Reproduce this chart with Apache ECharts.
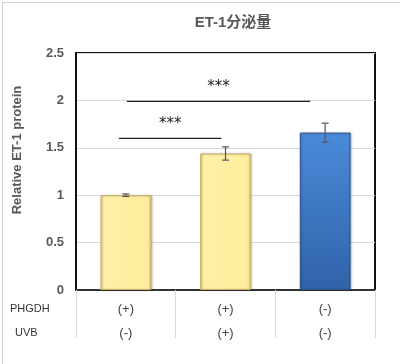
<!DOCTYPE html>
<html><head><meta charset="utf-8">
<script src="https://cdn.jsdelivr.net/npm/echarts@6/dist/echarts.min.js"></script>
<style>html,body{margin:0;padding:0;background:#fff}#c{width:400px;height:364px}</style>
</head><body><div id="c"></div>
<script>
const categories = ['A', 'B', 'C'];
const phgdh = ['(+)', '(+)', '(-)'];
const uvb = ['(-)', '(+)', '(-)'];
const values = [1.0, 1.44, 1.66];
const errors = [0.013, 0.07, 0.1];
const yTicks = [0, 0.5, 1, 1.5, 2, 2.5];
// significance brackets: [fromCategory, fromOffset, toCategory, toOffset, yValue, label]
const brackets = [
  [0, -0.07, 1, -0.04, 1.6, '***'],
  [0, 0.01, 2, -0.15, 1.99, '***']
];

const chart = echarts.init(document.getElementById('c'));
const yellow = {type:'linear',x:0,y:0,x2:1,y2:0,colorStops:[{offset:0,color:'#f3dc8c'},{offset:0.08,color:'#fff0a6'},{offset:0.92,color:'#ffee9e'},{offset:1,color:'#e6cc7e'}]};
const blue = {type:'linear',x:0,y:0,x2:0,y2:1,colorStops:[{offset:0,color:'#4a8ad9'},{offset:1,color:'#3063a9'}]};
const colors = [yellow, yellow, blue];
const borders = ['#cbb26a', '#cbb26a', '#2a5590'];

chart.setOption({
  animation: false,
  title: {text: 'ET-1分泌量', left: 228, top: 10, textAlign: 'center',
    textStyle: {fontSize: 15, fontWeight: 'bold', color: '#595959', fontFamily: 'Liberation Sans, Noto Sans CJK SC'}},
  grid: {left: 76, right: 25, top: 53, bottom: 74, show: true, borderColor: '#111', borderWidth: 2},
  xAxis: {
    type: 'category', data: categories,
    axisLine: {lineStyle: {color: '#333', width: 2}},
    axisTick: {show: true, length: 48, lineStyle: {color: '#d9d9d9'}},
    axisLabel: {
      margin: 7,
      formatter: (v, i) => phgdh[i] + '\n' + uvb[i],
      fontSize: 13, lineHeight: 24, color: '#404040', fontFamily: 'Liberation Sans'
    }
  },
  yAxis: {
    type: 'value', min: 0, max: 2.5, interval: 0.5,
    axisLine: {show: true, lineStyle: {color: '#111', width: 2}},
    axisTick: {show: false},
    axisLabel: {fontSize: 13, fontWeight: 'bold', color: '#595959', margin: 12, fontFamily: 'Liberation Sans',
      formatter: v => String(v)},
    splitLine: {lineStyle: {color: '#d9d9d9'}}
  },
  graphic: [
    {type: 'rect', left: 0, top: 0, shape: {width: 399, height: 363}, style: {fill: 'none', stroke: '#d0d0d0', lineWidth: 1}, x: 0.5, y: 0.5},
    {type: 'text', x: 17, y: 150, rotation: Math.PI / 2,
      style: {text: 'Relative ET-1 protein', fontSize: 13, fontWeight: 'bold', fill: '#595959', fontFamily: 'Liberation Sans',
        textAlign: 'center', textVerticalAlign: 'middle'}},
    {type: 'text', left: 10, top: 303, style: {text: 'PHGDH', fontSize: 11, fill: '#333', fontFamily: 'Liberation Sans'}},
    {type: 'text', left: 15, top: 327, style: {text: 'UVB', fontSize: 11, fill: '#333', fontFamily: 'Liberation Sans'}}
  ],
  series: [
    {
      type: 'bar', barWidth: '51%',
      data: values.map((v, i) => ({value: v, itemStyle: {color: colors[i], borderColor: borders[i], borderWidth: 1,
        shadowColor: 'rgba(0,0,0,0.25)', shadowBlur: 2, shadowOffsetX: 1, shadowOffsetY: 0}})),
      z: 2
    },
    {
      type: 'custom', z: 5,
      data: values.map((v, i) => [i, v - errors[i], v + errors[i]]),
      renderItem: (params, api) => {
        const lo = api.coord([api.value(0), api.value(1)]);
        const hi = api.coord([api.value(0), api.value(2)]);
        const w = 3.5;
        const st = {stroke: '#555', lineWidth: 1.2};
        return {type: 'group', children: [
          {type: 'line', shape: {x1: hi[0], y1: hi[1], x2: lo[0], y2: lo[1]}, style: st},
          {type: 'line', shape: {x1: hi[0]-w, y1: hi[1], x2: hi[0]+w, y2: hi[1]}, style: st},
          {type: 'line', shape: {x1: lo[0]-w, y1: lo[1], x2: lo[0]+w, y2: lo[1]}, style: st}
        ]};
      }
    },
    {
      type: 'custom', z: 6,
      data: brackets,
      renderItem: (params, api) => {
        const b = brackets[params.dataIndex];
        const bw = api.size([1, 0])[0];
        const p0 = api.coord([b[0], b[4]]);
        const p1 = api.coord([b[2], b[4]]);
        const x0 = p0[0] + b[1] * bw, x1 = p1[0] + b[3] * bw;
        return {type: 'group', children: [
          {type: 'line', shape: {x1: x0, y1: p0[1], x2: x1, y2: p0[1]}, style: {stroke: '#222', lineWidth: 1.2}},
          {type: 'text', style: {text: b[5], x: (x0 + x1) / 2, y: p0[1] - 7, textAlign: 'center', textVerticalAlign: 'bottom',
            fontSize: 15, fill: '#222', fontFamily: 'DejaVu Sans'}}
        ]};
      }
    }
  ]
});
</script></body></html>
